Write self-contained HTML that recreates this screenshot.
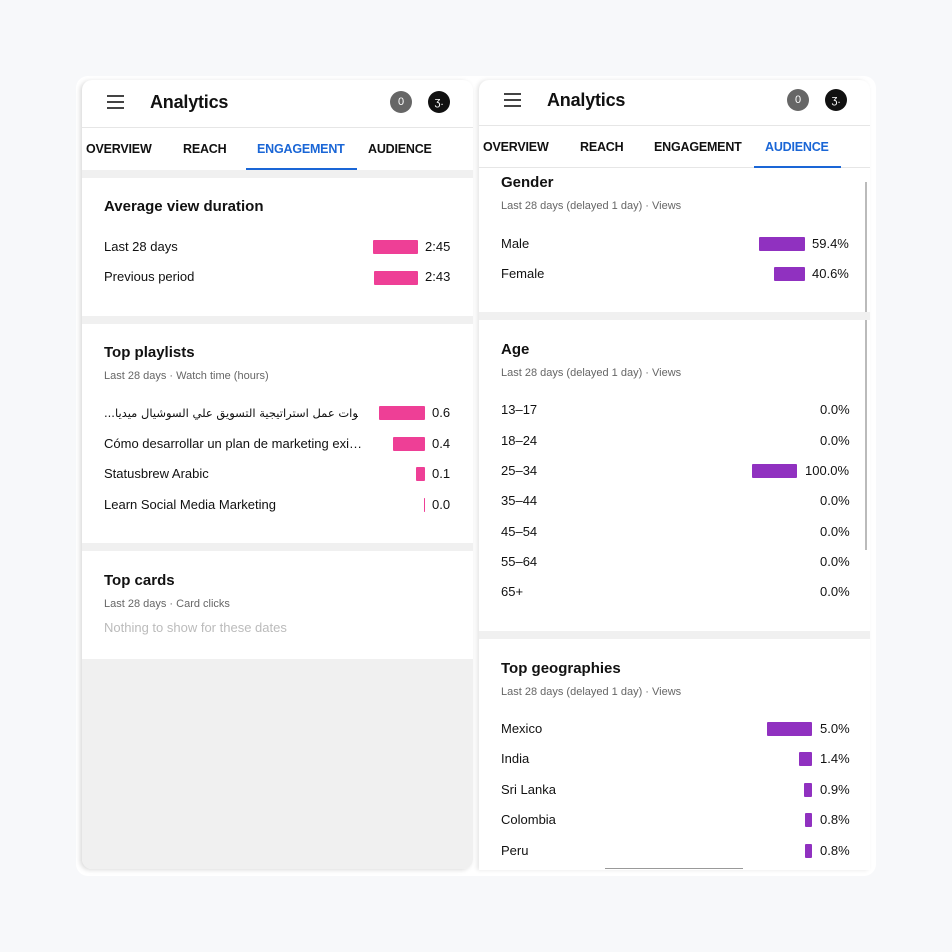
<!DOCTYPE html>
<html><head><meta charset="utf-8"><style>
*{margin:0;padding:0;box-sizing:border-box}
body{width:952px;height:952px;background:#f7f8fa;position:relative;overflow:hidden;font-family:"Liberation Sans","Noto Sans CJK SC",sans-serif;color:#111}
.a{position:absolute}
.t{position:absolute;line-height:16px;white-space:nowrap}
.h{font-size:15px;font-weight:bold;color:#111}
.s{font-size:11px;color:#666}
.r{font-size:13px;color:#111}
.tab{font-size:12.5px;font-weight:bold;color:#111;letter-spacing:-0.2px}
.pk{position:absolute;background:#ee3f96;height:14px;border-radius:1px}
.pu{position:absolute;background:#9031c0;height:14px;border-radius:1px}
.g{position:absolute;background:#f0f0f0}
.hb{position:absolute;width:17px;height:2px;background:#444}
.c{position:absolute;width:22px;height:22px;border-radius:50%;color:#fff;font-size:11px;text-align:center;line-height:22px}
</style></head><body>
<div class="a" style="left:76px;top:76px;width:800px;height:800px;background:#fff;border-radius:12px"></div>
<div class="a" style="left:82px;top:80px;width:391px;height:789px;background:#fff;border-radius:10px;box-shadow:-2px 1px 5px rgba(0,0,0,0.15);overflow:hidden"></div>
<div class="a" style="left:82px;top:127px;width:391px;height:1px;background:#e6e6e6"></div>
<div class="hb" style="left:107px;top:95px"></div><div class="hb" style="left:107px;top:101px"></div><div class="hb" style="left:107px;top:107px"></div>
<div class="t" style="left:150px;top:91px;font-size:18px;line-height:22px;font-weight:bold;letter-spacing:-0.2px">Analytics</div>
<div class="c" style="left:390px;top:91px;background:#666">0</div>
<div class="c" style="left:428px;top:91px;background:#111">ʒ.</div>
<div class="t tab" style="left:86px;top:141px">OVERVIEW</div>
<div class="t tab" style="left:183px;top:141px">REACH</div>
<div class="t tab" style="left:257px;top:141px;color:#1a66d6">ENGAGEMENT</div>
<div class="t tab" style="left:368px;top:141px">AUDIENCE</div>
<div class="a" style="left:246px;top:168px;width:111px;height:2px;background:#1a66d6"></div>
<div class="g" style="left:82px;top:170px;width:391px;height:8px"></div>
<div class="t h" style="left:104px;top:199px">Average view duration</div>
<div class="t r" style="left:104px;top:239px">Last 28 days</div><div class="pk" style="left:373px;top:240px;width:45px"></div><div class="t r" style="left:425px;top:239px">2:45</div>
<div class="t r" style="left:104px;top:269px">Previous period</div><div class="pk" style="left:374px;top:271px;width:44px"></div><div class="t r" style="left:425px;top:269px">2:43</div>
<div class="g" style="left:82px;top:316px;width:391px;height:8px"></div>
<div class="t h" style="left:104px;top:345px">Top playlists</div>
<div class="t s" style="left:104px;top:368px">Last 28 days · Watch time (hours)</div>
<div class="t r" style="left:104px;top:405px;width:254px;overflow:hidden;font-family:'DejaVu Sans',sans-serif;font-size:11.5px;text-align:right">...<span dir="rtl">خطوات عمل استراتيجية التسويق علي السوشيال ميديا</span></div>
<div class="pk" style="left:379px;top:406px;width:46px"></div><div class="t r" style="left:432px;top:405px">0.6</div>
<div class="t r" style="left:104px;top:436px">Cómo desarrollar un plan de marketing exi…</div>
<div class="pk" style="left:393px;top:437px;width:32px"></div><div class="t r" style="left:432px;top:436px">0.4</div>
<div class="t r" style="left:104px;top:466px">Statusbrew Arabic</div>
<div class="pk" style="left:416px;top:467px;width:9px"></div><div class="t r" style="left:432px;top:466px">0.1</div>
<div class="t r" style="left:104px;top:497px">Learn Social Media Marketing</div>
<div class="pk" style="left:424px;top:498px;width:1px"></div><div class="t r" style="left:432px;top:497px">0.0</div>
<div class="g" style="left:82px;top:543px;width:391px;height:8px"></div>
<div class="t h" style="left:104px;top:573px">Top cards</div>
<div class="t s" style="left:104px;top:596px">Last 28 days · Card clicks</div>
<div class="t" style="left:104px;top:620px;font-size:13px;color:#bbb">Nothing to show for these dates</div>
<div class="g" style="left:82px;top:659px;width:391px;height:210px;border-radius:0 0 10px 10px"></div>
<div class="a" style="left:479px;top:80px;width:391px;height:790px;background:#fff;border-radius:10px 10px 0 0;box-shadow:-2px 0 4px rgba(0,0,0,0.1)"></div>
<div class="a" style="left:479px;top:125px;width:391px;height:1px;background:#e6e6e6"></div>
<div class="hb" style="left:504px;top:93px"></div><div class="hb" style="left:504px;top:99px"></div><div class="hb" style="left:504px;top:105px"></div>
<div class="t" style="left:547px;top:89px;font-size:18px;line-height:22px;font-weight:bold;letter-spacing:-0.2px">Analytics</div>
<div class="c" style="left:787px;top:89px;background:#666">0</div>
<div class="c" style="left:825px;top:89px;background:#111">ʒ.</div>
<div class="t tab" style="left:483px;top:139px">OVERVIEW</div>
<div class="t tab" style="left:580px;top:139px">REACH</div>
<div class="t tab" style="left:654px;top:139px">ENGAGEMENT</div>
<div class="t tab" style="left:765px;top:139px;color:#1a66d6">AUDIENCE</div>
<div class="a" style="left:479px;top:167px;width:391px;height:1px;background:#e6e6e6"></div>
<div class="a" style="left:754px;top:166px;width:87px;height:2px;background:#1a66d6"></div>
<div class="a" style="left:865px;top:182px;width:2px;height:368px;background:#bbb"></div>
<div class="t h" style="left:501px;top:175px">Gender</div>
<div class="t s" style="left:501px;top:198px">Last 28 days (delayed 1 day) · Views</div>
<div class="t r" style="left:501px;top:236px">Male</div><div class="pu" style="left:759px;top:237px;width:46px"></div><div class="t r" style="left:812px;top:236px">59.4%</div>
<div class="t r" style="left:501px;top:266px">Female</div><div class="pu" style="left:774px;top:267px;width:31px"></div><div class="t r" style="left:812px;top:266px">40.6%</div>
<div class="g" style="left:479px;top:312px;width:391px;height:8px"></div>
<div class="t h" style="left:501px;top:342px">Age</div>
<div class="t s" style="left:501px;top:365px">Last 28 days (delayed 1 day) · Views</div>
<div class="t r" style="left:501px;top:402px">13–17</div><div class="t r" style="left:820px;top:402px">0.0%</div>
<div class="t r" style="left:501px;top:433px">18–24</div><div class="t r" style="left:820px;top:433px">0.0%</div>
<div class="t r" style="left:501px;top:463px">25–34</div><div class="pu" style="left:752px;top:464px;width:45px"></div><div class="t r" style="left:805px;top:463px">100.0%</div>
<div class="t r" style="left:501px;top:493px">35–44</div><div class="t r" style="left:820px;top:493px">0.0%</div>
<div class="t r" style="left:501px;top:524px">45–54</div><div class="t r" style="left:820px;top:524px">0.0%</div>
<div class="t r" style="left:501px;top:554px">55–64</div><div class="t r" style="left:820px;top:554px">0.0%</div>
<div class="t r" style="left:501px;top:584px">65+</div><div class="t r" style="left:820px;top:584px">0.0%</div>
<div class="g" style="left:479px;top:631px;width:391px;height:8px"></div>
<div class="t h" style="left:501px;top:661px">Top geographies</div>
<div class="t s" style="left:501px;top:684px">Last 28 days (delayed 1 day) · Views</div>
<div class="t r" style="left:501px;top:721px">Mexico</div><div class="pu" style="left:767px;top:722px;width:45px"></div><div class="t r" style="left:820px;top:721px">5.0%</div>
<div class="t r" style="left:501px;top:751px">India</div><div class="pu" style="left:799px;top:752px;width:13px"></div><div class="t r" style="left:820px;top:751px">1.4%</div>
<div class="t r" style="left:501px;top:782px">Sri Lanka</div><div class="pu" style="left:804px;top:783px;width:8px"></div><div class="t r" style="left:820px;top:782px">0.9%</div>
<div class="t r" style="left:501px;top:812px">Colombia</div><div class="pu" style="left:805px;top:813px;width:7px"></div><div class="t r" style="left:820px;top:812px">0.8%</div>
<div class="t r" style="left:501px;top:843px">Peru</div><div class="pu" style="left:805px;top:844px;width:7px"></div><div class="t r" style="left:820px;top:843px">0.8%</div>
<div class="a" style="left:605px;top:868px;width:138px;height:1px;background:#999"></div>
</body></html>
